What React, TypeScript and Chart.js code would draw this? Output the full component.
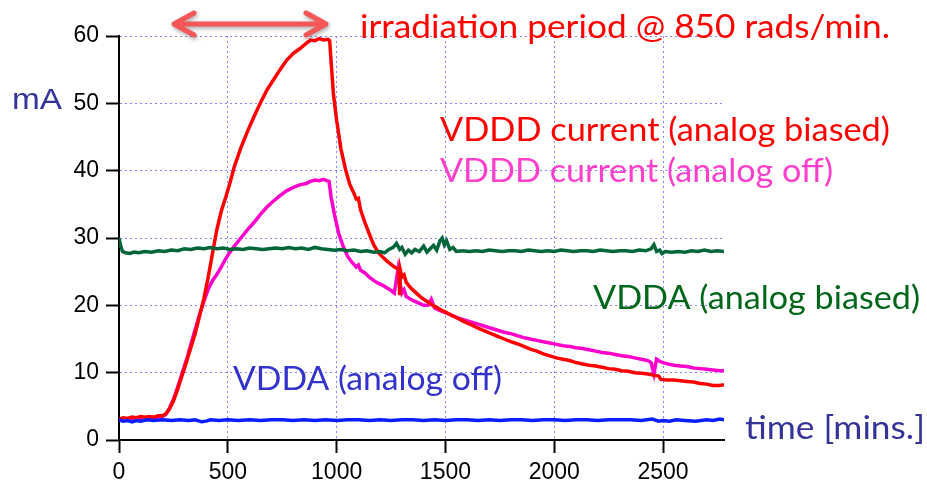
import React, { useEffect, useRef } from "react";
import { Chart, registerables } from "chart.js";

Chart.register(...registerables);

// ---- Data (time in minutes, current in mA) ----
const biasedDigitalTime = [0,20,40,60,80,100,120,140,160,180,200,215,230,250,270,290,310,330,350,370,390,410,430,450,470,490,510,530,560,590,620,650,680,710,740,770,800,830,860,880,900,920,940,960,968,975,985,1000,1020,1040,1060,1080,1090,1100,1110,1130,1150,1170,1190,1210,1230,1250,1270,1285,1290,1293,1300,1310,1320,1340,1360,1380,1400,1420,1440,1460,1480,1500,1530,1560,1590,1620,1650,1680,1710,1740,1770,1800,1830,1860,1890,1920,1950,1980,2010,2040,2070,2100,2130,2160,2190,2220,2250,2280,2310,2340,2370,2400,2430,2460,2480,2490,2520,2550,2580,2610,2640,2670,2700,2730,2760,2780];
const biasedDigitalMA = [3.1,3.3,3.2,3.4,3.3,3.5,3.4,3.5,3.4,3.6,3.6,3.9,4.5,5.8,7.6,9.6,11.6,13.7,15.8,18.4,21.0,24.2,27.8,31.3,34.0,36.0,38.2,40.6,43.4,45.8,48.0,50.1,52.0,53.5,55.0,56.4,57.4,58.1,58.9,59.4,59.3,59.6,59.4,59.5,59.3,56.0,51.5,47.5,43.2,40.3,38.0,36.6,35.8,35.9,34.2,32.3,30.6,29.0,27.9,27.2,26.6,26.1,25.6,25.4,21.5,25.2,24.2,24.5,23.4,22.6,22.0,21.4,20.9,20.5,20.0,19.7,19.3,19.0,18.5,18.0,17.5,17.1,16.6,16.2,15.8,15.4,15.0,14.6,14.3,13.9,13.5,13.2,12.8,12.5,12.2,12.0,11.8,11.5,11.3,11.1,11.0,10.8,10.6,10.5,10.3,10.2,10.0,9.9,9.8,9.6,9.5,9.0,8.9,8.9,8.8,8.7,8.6,8.4,8.3,8.1,8.1,8.2];

const offDigitalTime = [0,20,40,60,80,100,120,140,160,180,200,215,230,250,270,290,310,330,350,370,390,410,430,450,470,490,510,530,560,590,620,650,680,710,740,770,800,830,860,880,900,920,940,955,965,975,990,1010,1030,1050,1070,1090,1100,1110,1130,1150,1170,1190,1210,1230,1250,1265,1282,1290,1300,1310,1320,1340,1360,1380,1400,1420,1435,1450,1470,1500,1530,1560,1590,1620,1650,1680,1710,1740,1770,1800,1830,1860,1890,1920,1950,1980,2010,2040,2070,2100,2130,2160,2190,2220,2250,2280,2310,2340,2370,2400,2430,2445,2458,2470,2490,2520,2550,2580,2610,2640,2670,2700,2730,2760,2780];
const offDigitalMA = [3.0,3.1,3.2,3.2,3.3,3.2,3.3,3.4,3.3,3.4,3.5,3.8,4.6,6.0,7.9,9.9,11.9,14.2,16.4,18.6,20.6,22.4,23.7,24.6,25.7,26.9,27.9,28.8,30.0,31.2,32.3,33.5,34.6,35.5,36.3,37.0,37.5,37.9,38.1,38.4,38.6,38.5,38.7,38.5,38.4,36.0,33.5,30.6,28.8,27.3,26.4,25.7,26.0,25.2,24.8,24.2,23.7,23.3,23.0,22.6,22.2,21.8,25.3,23.5,21.8,22.3,21.3,20.9,20.6,20.3,20.0,20.0,20.9,19.6,19.3,18.9,18.5,18.1,17.8,17.5,17.2,16.9,16.6,16.3,16.0,15.8,15.5,15.2,15.0,14.8,14.6,14.4,14.2,14.0,13.9,13.7,13.6,13.4,13.2,13.0,12.9,12.7,12.5,12.4,12.2,12.0,11.8,11.5,9.8,12.0,11.6,11.3,11.1,11.0,10.9,10.7,10.6,10.5,10.4,10.3,10.3];

const biasedAnalogTime = [0,8,16,30,50,70,90,120,150,180,210,240,270,300,330,360,390,420,450,480,510,540,570,600,630,660,690,720,750,780,810,840,870,900,930,960,990,1020,1050,1080,1110,1140,1170,1200,1220,1240,1260,1275,1290,1300,1315,1330,1345,1360,1380,1400,1415,1430,1445,1460,1475,1485,1495,1505,1520,1535,1550,1580,1610,1640,1670,1700,1730,1760,1790,1820,1850,1880,1910,1940,1970,2000,2030,2060,2090,2120,2150,2180,2210,2240,2270,2300,2330,2360,2390,2420,2445,2458,2470,2485,2495,2510,2540,2570,2600,2630,2660,2690,2720,2750,2780];
const biasedAnalogMA = [30.0,28.8,28.0,27.8,27.7,27.9,27.8,28.0,27.9,28.1,28.0,28.2,28.1,28.4,28.3,28.5,28.4,28.6,28.4,28.5,28.3,28.4,28.3,28.5,28.4,28.3,28.4,28.5,28.4,28.6,28.4,28.5,28.3,28.6,28.4,28.3,28.2,28.3,28.1,28.2,28.0,28.1,27.9,28.0,27.8,28.3,28.6,29.2,28.3,28.6,27.6,28.2,27.8,28.3,28.0,28.8,27.9,28.4,28.9,28.2,29.6,30.0,29.0,29.6,28.3,28.6,28.0,28.1,28.0,28.1,28.0,28.2,28.1,28.0,28.1,28.1,28.0,28.2,28.1,28.0,28.1,28.0,28.2,28.1,28.0,28.1,28.1,28.0,28.2,28.1,28.0,28.1,28.1,28.0,28.2,28.1,28.4,29.0,28.0,28.2,27.7,28.0,27.9,28.0,27.9,28.1,28.0,28.2,28.0,28.1,28.0];

const offAnalogTime = [0,20,40,60,80,100,130,160,200,240,280,320,350,380,400,420,460,500,550,600,650,700,750,800,850,900,950,1000,1050,1100,1150,1200,1250,1300,1350,1400,1450,1500,1550,1600,1650,1700,1750,1800,1850,1900,1950,2000,2050,2100,2150,2200,2250,2300,2350,2400,2450,2480,2500,2530,2560,2600,2650,2700,2730,2760,2780];
const offAnalogMA = [3.0,2.8,2.9,2.7,2.9,2.8,3.0,2.9,3.0,2.9,3.0,2.9,3.0,2.7,2.8,3.0,2.9,3.0,2.9,3.0,2.9,3.0,3.0,2.9,3.0,2.9,3.0,2.9,3.0,3.0,2.9,3.0,2.9,3.0,3.0,2.9,3.0,2.9,3.0,3.0,2.9,3.0,2.9,3.0,3.0,2.9,3.0,3.0,2.9,3.0,3.0,2.9,3.0,3.0,3.0,2.9,3.1,2.8,2.9,2.8,3.0,2.9,2.8,3.0,2.9,3.1,3.0];

const xTickValues = [0, 500, 1000, 1500, 2000, 2500];
const xMin = 0;
const xMax = 2780;
const yTickStep = 10;
const yMin = 0;
const yMax = 60;

const zip = (t: number[], v: number[]) =>
  t.slice(0, Math.min(t.length, v.length)).map((x, i) => ({ x, y: v[i] }));

function fitText(ctx: CanvasRenderingContext2D, text: string, x: number, baseline: number,
  width: number, size: number, family: string, color: string) {
  ctx.save();
  ctx.font = `${size}px ${family}`;
  ctx.fillStyle = color;
  ctx.textAlign = "left";
  ctx.textBaseline = "alphabetic";
  const w = ctx.measureText(text).width;
  ctx.translate(x, baseline);
  ctx.scale(width / w, 1);
  ctx.fillText(text, 0, 0);
  ctx.restore();
}

const annotationPlugin = {
  id: "annotations",
  afterDraw(chart: any) {
    const ctx: CanvasRenderingContext2D = chart.ctx;
    const cal = "Lato, 'Open Sans', sans-serif";
    ctx.save();
    ctx.strokeStyle = "#f55757";
    ctx.lineWidth = 5;
    ctx.lineCap = "round";
    ctx.lineJoin = "round";
    ctx.shadowColor = "rgba(0,0,0,0.35)";
    ctx.shadowBlur = 4;
    ctx.shadowOffsetX = 1;
    ctx.shadowOffsetY = 2;
    const ax1 = 174, ax2 = 326, ay = 24;
    ctx.beginPath();
    ctx.moveTo(ax1, ay);
    ctx.lineTo(ax2, ay);
    ctx.moveTo(ax1 + 20, ay - 11);
    ctx.lineTo(ax1, ay);
    ctx.lineTo(ax1 + 20, ay + 11);
    ctx.moveTo(ax2 - 20, ay - 11);
    ctx.lineTo(ax2, ay);
    ctx.lineTo(ax2 - 20, ay + 11);
    ctx.stroke();
    ctx.restore();

    fitText(ctx, "irradiation period @ 850 rads/min.", 360, 38, 530, 32, cal, "#ff0000");
    fitText(ctx, "mA", 12, 109, 50, 30, "'Liberation Sans', Arial, sans-serif", "#333399");
    fitText(ctx, "VDDD current (analog biased)", 440, 141, 450, 32, cal, "#ff0000");
    fitText(ctx, "VDDD current (analog off)", 440, 182, 393, 32, cal, "#ff40cc");
    fitText(ctx, "VDDA (analog biased)", 593, 309, 327, 32, cal, "#00661a");
    fitText(ctx, "VDDA (analog off)", 233, 390, 269, 32, cal, "#3333cc");
    fitText(ctx, "time [mins.]", 745, 439, 180, 32, cal, "#333399");
  },
};

const tickFont = { family: "'Liberation Sans', Arial, sans-serif", size: 23 };

export default function App() {
  const ref = useRef<HTMLCanvasElement | null>(null);
  useEffect(() => {
    if (!ref.current) return;
    const gridColor = (c: any) => (c.tick && c.tick.value === 0 ? "rgba(0,0,0,0)" : "#8585ff");
    const chart = new Chart(ref.current, {
      type: "line",
      data: {
        datasets: [
          { label: "VDDA (analog off)", data: zip(offAnalogTime, offAnalogMA), borderColor: "#0a1eff", borderWidth: 3.5, pointRadius: 0 },
          { label: "VDDA (analog biased)", data: zip(biasedAnalogTime, biasedAnalogMA), borderColor: "#00663a", borderWidth: 3.5, pointRadius: 0 },
          { label: "VDDD current (analog biased)", data: zip(biasedDigitalTime, biasedDigitalMA), borderColor: "#ff0000", borderWidth: 3.5, pointRadius: 0 },
          { label: "VDDD current (analog off)", data: zip(offDigitalTime, offDigitalMA), borderColor: "#ff00cc", borderWidth: 3.5, pointRadius: 0 },
        ],
      },
      options: {
        responsive: false,
        animation: false,
        events: [],
        layout: { padding: { left: 0, top: 36, right: 203, bottom: 0 } },
        plugins: { legend: { display: false }, tooltip: { enabled: false }, title: { display: false } },
        elements: { line: { tension: 0 } },
        scales: {
          x: {
            type: "linear",
            min: xMin,
            max: xMax,
            afterFit: (s: any) => { s.height = 45; },
            afterBuildTicks: (s: any) => { s.ticks = xTickValues.map((v) => ({ value: v })); },
            ticks: { color: "#000", font: tickFont, padding: 6, maxRotation: 0, autoSkip: false, callback: (v: any) => String(v) },
            grid: { color: gridColor, lineWidth: 1, tickColor: "#000", tickLength: 13, tickWidth: 2 },
            border: { color: "#000", width: 2, dash: [2, 3] },
          },
          y: {
            type: "linear",
            min: yMin,
            max: yMax,
            afterFit: (s: any) => { s.width = 119; },
            ticks: { stepSize: yTickStep, color: "#000", font: tickFont, padding: 7, callback: (v: any) => String(v) },
            grid: { color: gridColor, lineWidth: 1, tickColor: "#000", tickLength: 13, tickWidth: 2 },
            border: { color: "#000", width: 2, dash: [2, 3] },
          },
        },
      },
      plugins: [annotationPlugin],
    } as any);
    return () => chart.destroy();
  }, []);
  return (
    <div style={{ position: "absolute", left: 0, top: 0, width: 927, height: 485, background: "#fff" }}>
      <canvas ref={ref} width={927} height={485} style={{ display: "block", width: 927, height: 485 }} />
    </div>
  );
}
